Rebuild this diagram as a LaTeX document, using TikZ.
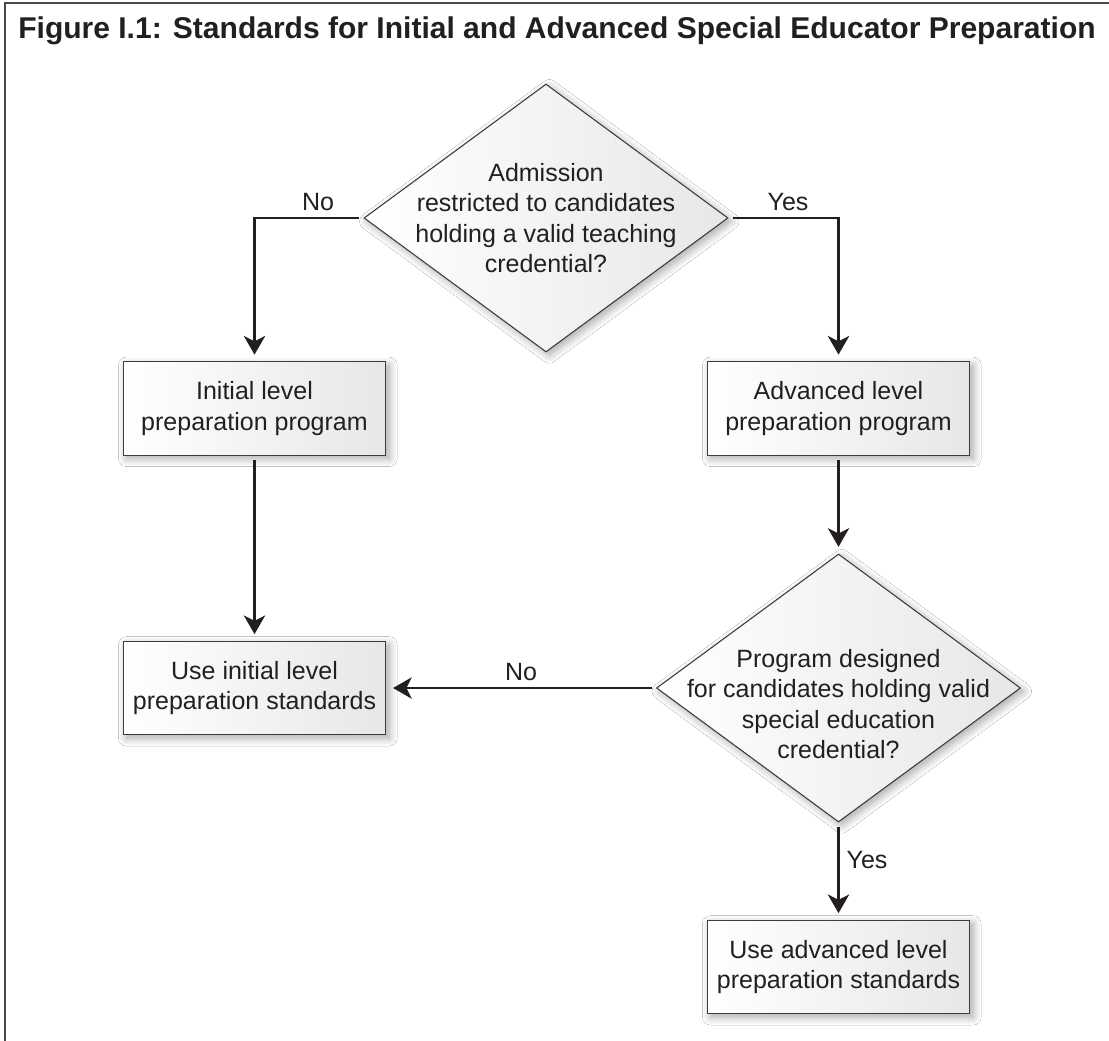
\documentclass[tikz,border=0pt]{standalone}
\usepackage{fontspec}
\setmainfont{Liberation Sans}
\usetikzlibrary{shapes.geometric,shadows.blur,arrows.meta}
\definecolor{ink}{HTML}{231F20}
\definecolor{edge}{HTML}{3C3C3C}
\definecolor{framec}{HTML}{4A4A4A}
\definecolor{fillr}{HTML}{E6E7E9}
\begin{document}
\begin{tikzpicture}[x=0.75pt,y=-0.75pt,
  font=\fontsize{18.75}{22.9}\selectfont, text=ink,
  shadowed/.style={blur shadow={shadow xshift=2.5pt, shadow yshift=-2.5pt, shadow blur radius=6pt, shadow blur steps=10, shadow opacity=35}},
  boxnode/.style={shadowed, draw=edge, line width=0.8pt, rectangle, minimum width=197pt, minimum height=70pt,
    left color=white, right color=fillr, align=center, inner sep=2pt},
  dianode/.style={shadowed, draw=edge, line width=0.8pt, diamond, minimum width=273pt, minimum height=201pt,
    inner sep=0pt, left color=white, right color=fillr},
  diatext/.style={align=center, inner sep=0pt},
  arr/.style={line width=1.8pt, draw=ink, -{Stealth[length=14pt,width=16pt,inset=4pt]}, shorten <=3pt, shorten >=5pt},
  lbl/.style={inner sep=0pt}]
\useasboundingbox (0,0) rectangle (1109,1040);
\clip (0,0) rectangle (1109,1040);
\fill[white] (0,0) rectangle (1109,1040);
\draw[line width=1.5pt, draw=framec] (5,3) rectangle (1140,1080);

\node[font=\bfseries\fontsize{22.6}{27}\selectfont] (title) at (557,31)
  {\resizebox{808pt}{!}{Figure I.1: Standards for Initial and Advanced Special Educator Preparation}};

\node[dianode] (d1) at (546,218) {};
\node[diatext] (d1t) at (546,218) {Admission\\restricted to candidates\\holding a valid teaching\\credential?};

\node[boxnode] (init) at (254.5,408.5) {Initial level\\preparation program};
\node[boxnode] (adv) at (838.5,408.5) {Advanced level\\preparation program};

\node[dianode] (d2) at (838.5,688) {};
\node[diatext] (d2t) at (838.5,704) {Program designed\\for candidates holding valid\\special education\\credential?};

\node[boxnode] (useinit) at (254.5,688) {Use initial level\\preparation standards};
\node[boxnode] (useadv) at (838.5,967) {Use advanced level\\preparation standards};

\draw[arr] (d1.west) -| (init.north);
\draw[arr] (d1.east) -| (adv.north);
\draw[arr] (init.south) -- (useinit.north);
\draw[arr] (adv.south) -- (d2.north);
\draw[arr] (d2.west) -- (useinit.east);
\draw[arr] (d2.south) -- (useadv.north);

\node[lbl] (no1) at (318,202) {No};
\node[lbl] (yes1) at (788,202) {Yes};
\node[lbl] (no2) at (521,672) {No};
\node[lbl] (yes2) at (867,860) {Yes};
\end{tikzpicture}
\end{document}
